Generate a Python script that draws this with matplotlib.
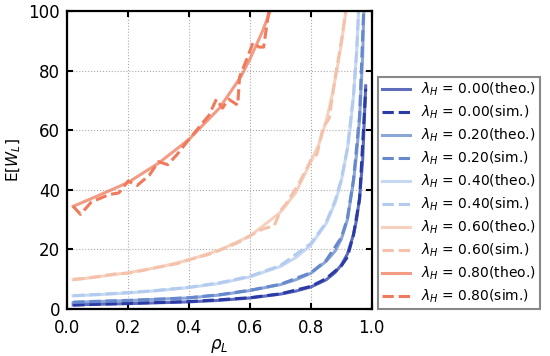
import matplotlib
matplotlib.use('Agg')
import matplotlib.pyplot as plt

# lambda_H values and colours
lam_labels = ['0.00', '0.20', '0.40', '0.60', '0.80']
colors = ['#2b3ba6', '#6688cc', '#b3cbee', '#f4c2aa', '#ef7a5c']

# theory curves
rho_t0 = [0.02, 0.1, 0.2, 0.3, 0.4, 0.5, 0.6, 0.7, 0.75, 0.8, 0.85, 0.88, 0.9, 0.92, 0.94, 0.95, 0.96, 0.97, 0.98]
ew_t0 = [1.4, 1.6, 1.8, 2.1, 2.4, 2.9, 3.7, 5.0, 6.0, 7.4, 9.8, 12.3, 14.8, 18.5, 25, 30, 37.5, 50, 75]

rho_t1 = [0.02, 0.1, 0.2, 0.3, 0.4, 0.5, 0.6, 0.7, 0.75, 0.8, 0.85, 0.88, 0.9, 0.92, 0.94, 0.95, 0.96, 0.97, 0.975]
ew_t1 = [2.2, 2.5, 2.8, 3.3, 3.7, 4.7, 6.2, 8.2, 9.8, 12, 16, 19.5, 23.5, 30, 43, 52, 64, 85, 105]

rho_t2 = [0.02, 0.1, 0.2, 0.3, 0.4, 0.5, 0.6, 0.7, 0.75, 0.8, 0.85, 0.88, 0.9, 0.92, 0.93, 0.94, 0.95, 0.96]
ew_t2 = [4.4, 4.8, 5.4, 6.2, 7.2, 8.6, 10.8, 14.3, 17.2, 21.5, 28.7, 35.8, 43, 53.8, 61.4, 71.7, 86, 107]

rho_t3 = [0.02, 0.1, 0.2, 0.3, 0.4, 0.5, 0.6, 0.7, 0.75, 0.8, 0.825, 0.85, 0.87, 0.885, 0.9, 0.915, 0.92]
ew_t3 = [9.8, 10.8, 12.2, 14, 16.5, 19.8, 24.5, 32.5, 39, 49.5, 55, 63, 72, 80, 89, 100, 104]

rho_t4 = [0.02, 0.1, 0.2, 0.3, 0.4, 0.5, 0.57, 0.6, 0.64, 0.67]
ew_t4 = [34.5, 38, 42.5, 49, 57, 67.5, 78, 84, 93, 101]

# simulation curves
rho_s0 = [0.02, 0.1, 0.2, 0.3, 0.4, 0.5, 0.6, 0.7, 0.8, 0.85, 0.9, 0.92, 0.94, 0.96, 0.98]
ew_s0 = [1.3, 1.6, 1.9, 2.2, 2.5, 3.1, 3.8, 5.1, 7.6, 10.2, 14.5, 17.5, 25, 37, 74]

rho_s1 = [0.02, 0.1, 0.2, 0.3, 0.4, 0.5, 0.6, 0.7, 0.8, 0.85, 0.9, 0.92, 0.94, 0.96, 0.975]
ew_s1 = [2.3, 2.6, 2.9, 3.3, 3.8, 4.8, 6.3, 8.3, 12.2, 16.3, 24, 30.5, 43.5, 65, 105]

rho_s2 = [0.02, 0.1, 0.2, 0.3, 0.4, 0.5, 0.6, 0.7, 0.8, 0.85, 0.88, 0.9, 0.92, 0.94, 0.95, 0.96]
ew_s2 = [4.5, 4.9, 5.5, 6.3, 7.3, 8.8, 11, 14.6, 22, 29, 36.5, 43.5, 54, 72, 86, 107]

rho_s3 = [0.02, 0.06, 0.1, 0.16, 0.2, 0.26, 0.3, 0.36, 0.4, 0.46, 0.5, 0.56, 0.6, 0.64, 0.68, 0.7,
          0.72, 0.76, 0.8, 0.82, 0.84, 0.86, 0.88, 0.9, 0.92]
ew_s3 = [10.0, 10.3, 10.9, 11.8, 12.0, 13.2, 14.1, 15.2, 16.6, 18.2, 19.7, 22.3, 24.6, 26.8, 28.0, 33,
         35.5, 42, 50, 52, 61, 64, 78, 90, 104]

rho_s4 = [0.02, 0.044, 0.08, 0.14, 0.17, 0.2, 0.23, 0.27, 0.3, 0.33, 0.36, 0.4, 0.435, 0.465,
          0.49, 0.51, 0.53, 0.56, 0.566, 0.59, 0.61, 0.63, 0.645, 0.665]
ew_s4 = [34.5, 31.8, 36, 38.5, 39, 43, 41.5, 45, 49.5, 48.5, 51.8, 57, 61.3, 65,
         70.5, 67.5, 70.5, 68.5, 78, 84, 89.5, 88, 88, 102]

theo = [(rho_t0, ew_t0), (rho_t1, ew_t1), (rho_t2, ew_t2), (rho_t3, ew_t3), (rho_t4, ew_t4)]
sim = [(rho_s0, ew_s0), (rho_s1, ew_s1), (rho_s2, ew_s2), (rho_s3, ew_s3), (rho_s4, ew_s4)]

fig = plt.figure(figsize=(5.5, 3.56), dpi=100)
ax = fig.add_axes([0.122, 0.132, 0.554, 0.836])

for i in range(len(lam_labels)):
    ax.plot(theo[i][0], theo[i][1], '-', color=colors[i], lw=2.2, alpha=0.75,
            label=r'$\lambda_H$ = %s(theo.)' % lam_labels[i])
    ax.plot(sim[i][0], sim[i][1], '--', color=colors[i], lw=2.2,
            label=r'$\lambda_H$ = %s(sim.)' % lam_labels[i])

ax.set_xlim(0, 1.0)
ax.set_ylim(0, 100)
ax.set_xticks([0.0, 0.2, 0.4, 0.6, 0.8, 1.0])
ax.set_yticks([0, 20, 40, 60, 80, 100])
ax.grid(True, linestyle=':', color='#aaaaaa', lw=0.8)
ax.tick_params(direction='in', length=4.5, width=1.5, top=True, right=True, labelsize=12)
ax.tick_params(axis='x', pad=7)
ax.tick_params(axis='y', pad=5)
for s in ax.spines.values():
    s.set_linewidth(1.6)
ax.set_xlabel(r'$\rho_L$', fontsize=12, labelpad=0)
ax.set_ylabel(r'E[$W_L$]', fontsize=11)

leg = ax.legend(loc='lower left', bbox_to_anchor=(1.02, 0), borderaxespad=0, fontsize=10,
                fancybox=False, framealpha=1, edgecolor='#888888', handlelength=2.0,
                labelspacing=0.4, borderpad=0.3)
leg.get_frame().set_linewidth(1.5)

fig.savefig('out.png', dpi=100)
